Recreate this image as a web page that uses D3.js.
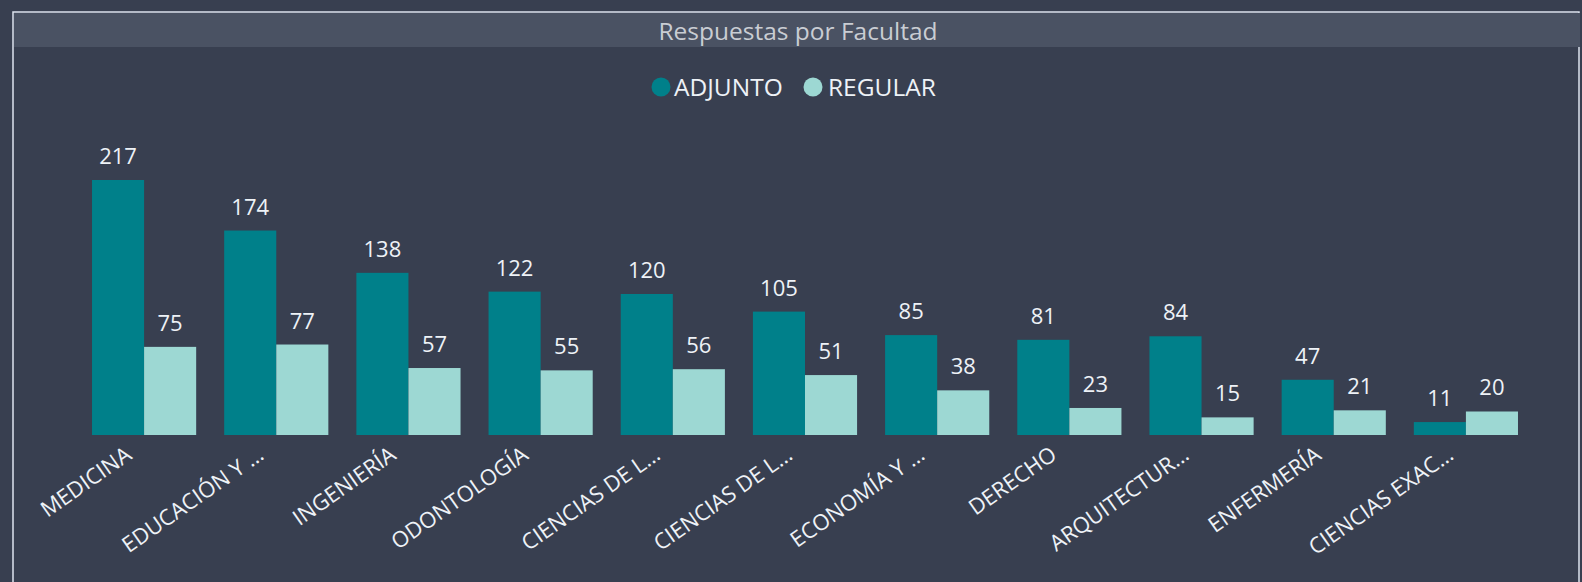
<!DOCTYPE html>
<html><head><meta charset="utf-8">
<script src="https://cdn.jsdelivr.net/npm/d3@7"></script>
<style>html,body{margin:0;padding:0;background:#383f50;overflow:hidden}</style>
</head><body>
<svg id="c" width="1582" height="582"></svg>
<script>
const categories = ["MEDICINA","EDUCACIÓN Y …","INGENIERÍA","ODONTOLOGÍA","CIENCIAS DE L…","CIENCIAS DE L…","ECONOMÍA Y …","DERECHO","ARQUITECTUR…","ENFERMERÍA","CIENCIAS EXAC…"];
const seriesNames = ["ADJUNTO","REGULAR"];
const adjunto = [217,174,138,122,120,105,85,81,84,47,11];
const regular = [75,77,57,55,56,51,38,23,15,21,20];
const colors = ["#00808a","#9dd8d3"];
const title = "Respuestas por Facultad";

const svg = d3.select("#c");
const font = "'Open Sans', 'Noto Sans', sans-serif";
svg.append("rect").attr("x",0).attr("y",0).attr("width",1582).attr("height",582).attr("fill","#383f50");
// frame
svg.append("rect").attr("x",13).attr("y",12).attr("width",1566).attr("height",600)
  .attr("fill","none").attr("stroke","#dde4ee").attr("stroke-width",1.5);
svg.append("rect").attr("x",14).attr("y",13).attr("width",1566).attr("height",34).attr("fill","#4a5263");
svg.append("text").attr("x",798).attr("y",40).attr("text-anchor","middle")
  .attr("font-family",font).attr("font-size",24.5).attr("fill","#c9cdd3").text(title);

// legend
const legend = [{name:seriesNames[0],cx:661,tx:674},{name:seriesNames[1],cx:813,tx:828}];
legend.forEach((l,i)=>{
  svg.append("circle").attr("cx",l.cx).attr("cy",87).attr("r",9.5).attr("fill",colors[i]);
  svg.append("text").attr("x",l.tx).attr("y",96).attr("font-family",font).attr("font-size",24.5)
    .attr("fill","#eef2f7").text(l.name);
});

const data = categories.map((c,i)=>({cat:c, idx:i, vals:[adjunto[i],regular[i]]}));
const x0 = d3.scaleBand().domain(d3.range(categories.length)).range([78,1532]).paddingInner(0.212).paddingOuter(0.106);
const x1 = d3.scaleBand().domain([0,1]).range([0,x0.bandwidth()]);
const y = d3.scaleLinear().domain([0,217]).range([435,180]);

const g = svg.append("g").selectAll("g").data(data).join("g")
  .attr("transform",d=>`translate(${x0(d.idx)},0)`);
g.selectAll("rect").data(d=>d.vals.map((v,k)=>({v,k}))).join("rect")
  .attr("x",d=>x1(d.k)).attr("width",x1.bandwidth())
  .attr("y",d=>y(d.v)).attr("height",d=>y(0)-y(d.v)).attr("fill",d=>colors[d.k]);
g.selectAll("text").data(d=>d.vals.map((v,k)=>({v,k}))).join("text")
  .attr("x",d=>x1(d.k)+x1.bandwidth()/2).attr("y",d=>y(d.v)-16)
  .attr("text-anchor","middle").attr("font-family",font).attr("font-size",22)
  .attr("fill","#eef2f7").text(d=>d.v);

// x axis labels
const xa = svg.append("g").attr("transform","translate(0,435)")
  .call(d3.axisBottom(x0).tickSize(0).tickFormat(i=>categories[i]));
xa.select(".domain").remove();
xa.selectAll("text").attr("font-family",font).attr("font-size",22).attr("fill","#eef2f7")
  .attr("text-anchor","end").attr("dy",0).attr("y",0)
  .attr("transform","translate(-11,23) rotate(-35)");
</script>
</body></html>
